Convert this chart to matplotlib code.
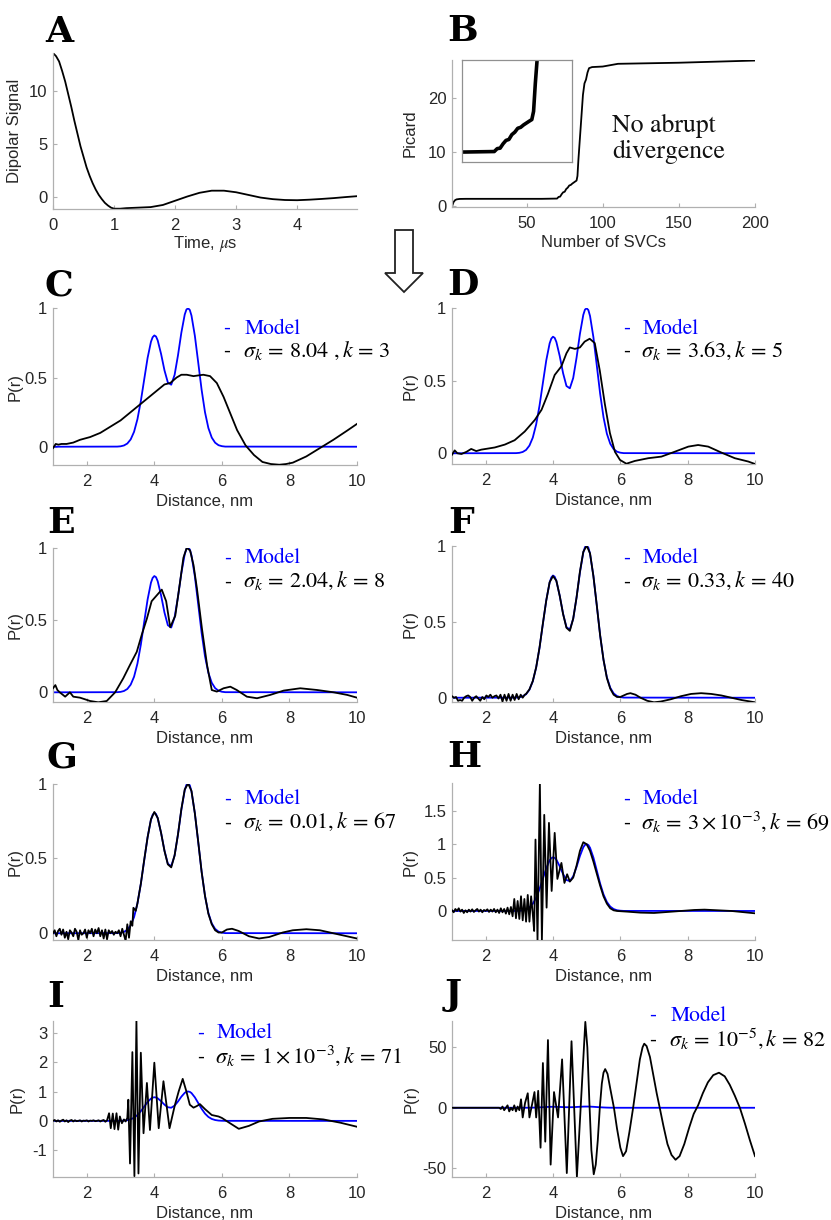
import matplotlib
matplotlib.use('Agg')
import matplotlib.pyplot as plt
from matplotlib.patches import Polygon
from matplotlib.ticker import FuncFormatter

plt.rcParams['font.family'] = ['Liberation Sans', 'DejaVu Sans']
plt.rcParams['mathtext.fontset'] = 'stix'

W, H = 831, 1220

# ---------------- data ----------------
# Panel A: dipolar signal
t_A = [0, 0.05, 0.1, 0.15, 0.2, 0.25, 0.3, 0.35, 0.4, 0.45, 0.5, 0.55, 0.6, 0.65, 0.7,
       0.75, 0.8, 0.85, 0.9, 0.95, 1.0, 1.1, 1.2, 1.4, 1.6, 1.8, 2.0, 2.2, 2.4, 2.6,
       2.8, 3.0, 3.2, 3.4, 3.6, 3.8, 4.0, 4.2, 4.4, 4.6, 4.8, 4.98]
sig_A = [13.6, 13.3, 12.8, 11.9, 10.9, 9.7, 8.5, 7.2, 6.0, 4.8, 3.8, 2.8, 2.0, 1.3, 0.7,
         0.2, -0.2, -0.55, -0.8, -1.0, -1.1, -1.1, -1.05, -1.0, -0.95, -0.75, -0.35, 0.05, 0.4, 0.6,
         0.6, 0.45, 0.2, -0.05, -0.2, -0.28, -0.3, -0.25, -0.18, -0.1, 0.0, 0.08]

# Panel B: Picard plot
svc_B = [1, 2, 3, 4, 6, 10, 20, 30, 40, 50, 60, 70, 71, 72, 73, 74, 75, 76, 77, 78,
         79, 80, 81, 82, 82.8, 83.4, 84, 85, 86, 87, 88, 89, 90, 91, 93, 100, 110, 130,
         150, 175, 200]
pic_B = [0.0, 0.8, 1.15, 1.3, 1.38, 1.4, 1.4, 1.4, 1.4, 1.4, 1.4, 1.45, 1.75, 1.8, 2.25,
         2.6, 2.7, 3.2, 3.45, 3.85, 3.95, 4.2, 4.4, 4.6, 4.75, 5.6, 8.5, 12.5, 16.5, 20.5,
         22.6, 23.3, 24.6, 25.4, 25.6, 25.7, 26.2, 26.3, 26.4, 26.6, 26.8]

# Model distance distribution (blue)
r_model = [1.0, 2.9, 3.0, 3.1, 3.2, 3.3, 3.4, 3.5, 3.6, 3.7, 3.8, 3.9, 3.95, 4.0, 4.05,
           4.1, 4.2, 4.3, 4.4, 4.5, 4.6, 4.7, 4.8, 4.9, 4.95, 5.0, 5.05, 5.1, 5.2, 5.3,
           5.4, 5.5, 5.6, 5.7, 5.8, 5.9, 6.0, 6.1, 10.0]
p_model = [0.0, 0.001, 0.003, 0.009, 0.023, 0.053, 0.108, 0.199, 0.329, 0.486, 0.641, 0.758,
           0.791, 0.804, 0.796, 0.768, 0.670, 0.552, 0.464, 0.448, 0.519, 0.660, 0.824,
           0.955, 0.991, 1.0, 0.988, 0.947, 0.801, 0.607, 0.411, 0.249, 0.135, 0.066,
           0.029, 0.011, 0.004, 0.001, 0.0]

# Panel C
r_C = [1.0, 1.08, 1.16, 1.25, 1.4, 1.6, 1.8, 2.1, 2.4, 2.7, 3.0, 3.3, 3.6, 3.9, 4.1,
       4.3, 4.47, 4.66, 4.8, 4.96, 5.16, 5.3, 5.45, 5.65, 5.85, 6.05, 6.25, 6.45, 6.7,
       6.95, 7.2, 7.45, 7.7, 7.9, 8.1, 8.5, 8.9, 9.3, 9.7, 10.0]
p_C = [-0.01, 0.02, 0.015, 0.02, 0.02, 0.03, 0.05, 0.07, 0.10, 0.145, 0.19, 0.25, 0.31,
       0.37, 0.41, 0.45, 0.46, 0.50, 0.52, 0.52, 0.51, 0.515, 0.52, 0.51, 0.46, 0.36, 0.24,
       0.12, 0.01, -0.06, -0.11, -0.125, -0.13, -0.125, -0.115, -0.07, -0.01, 0.05, 0.115,
       0.165]

# Panel D
r_D = [1.0, 1.08, 1.16, 1.28, 1.43, 1.57, 1.72, 1.87, 2.27, 2.57, 2.86, 3.16, 3.46, 3.66,
       3.85, 4.05, 4.25, 4.4, 4.5, 4.65, 4.8, 4.94, 5.09, 5.24, 5.39, 5.54, 5.69, 5.84,
       5.99, 6.18, 6.43, 6.83, 7.22, 7.62, 8.02, 8.31, 8.61, 9.0, 9.4, 9.8, 10.0]
p_D = [-0.01, 0.02, 0.0, -0.005, 0.01, 0.03, 0.015, 0.025, 0.04, 0.06, 0.09, 0.15, 0.23,
       0.30, 0.41, 0.54, 0.60, 0.69, 0.73, 0.72, 0.73, 0.77, 0.79, 0.76, 0.57, 0.34, 0.14,
       0.01, -0.046, -0.072, -0.053, -0.034, -0.023, 0.011, 0.046, 0.057, 0.046, 0.005,
       -0.034, -0.057, -0.074]

# Panel E
r_E = [1.0, 1.07, 1.13, 1.2, 1.36, 1.5, 1.6, 1.8, 2.1, 2.34, 2.59, 2.84, 3.08, 3.28, 3.48,
       3.63, 3.78, 3.92, 4.07, 4.22, 4.35, 4.47, 4.62, 4.76, 4.86, 4.96, 5.06, 5.16, 5.26,
       5.41, 5.56, 5.7, 5.85, 6.05, 6.25, 6.44, 6.74, 7.04, 7.43, 7.83, 8.32, 8.82, 9.31,
       9.71, 10.0]
p_E = [0.028, 0.05, 0.016, 0.0, -0.03, 0.0, -0.03, -0.037, -0.06, -0.069, -0.06, 0.0,
       0.097, 0.19, 0.28, 0.40, 0.51, 0.63, 0.67, 0.71, 0.63, 0.45, 0.53, 0.76, 0.93, 1.0,
       0.98, 0.88, 0.72, 0.44, 0.19, 0.016, 0.005, 0.028, 0.039, 0.016, -0.03, -0.041,
       -0.018, 0.012, 0.028, 0.016, 0.0, -0.018, -0.037]

# Panel F
r_F = [1.00, 1.06, 1.12, 1.18, 1.24, 1.30, 1.36, 1.42, 1.48, 1.54, 1.60, 1.66, 1.72, 1.78,
       1.84, 1.90, 1.96, 2.02, 2.08, 2.14, 2.20, 2.26, 2.32, 2.38, 2.44, 2.50, 2.56, 2.62,
       2.68, 2.74, 2.80, 2.86, 2.92, 2.98, 3.04, 3.10, 3.16,
       3.2, 3.3, 3.4, 3.5, 3.6, 3.7, 3.8, 3.9, 4.0, 4.1, 4.2, 4.3, 4.4, 4.5, 4.6, 4.7, 4.8,
       4.9, 5.0, 5.1, 5.2, 5.3, 5.4, 5.5, 5.6, 5.7, 5.8, 5.9,
       6.0, 6.1, 6.2, 6.3, 6.45, 6.6, 6.8, 7.0, 7.2, 7.5, 7.8, 8.1, 8.4, 8.7, 9.0, 9.3,
       9.6, 10.0]
p_F = [0.01, 0.0, 0.005, -0.02, -0.015, -0.02, 0.0, 0.01, 0.015, 0.005, -0.02, 0.0, 0.01,
       -0.005, -0.02, 0.005, -0.01, 0.015, 0.005, 0.02, 0.0, 0.01, 0.015, -0.005, 0.02,
       -0.025, 0.02, -0.02, 0.025, -0.02, 0.02, -0.015, 0.025, -0.01, 0.02, 0.0, 0.02,
       0.025, 0.055, 0.11, 0.20, 0.33, 0.49, 0.64, 0.76, 0.80, 0.77, 0.67, 0.55, 0.46, 0.44,
       0.52, 0.66, 0.83, 0.96, 1.0, 0.95, 0.80, 0.61, 0.41, 0.25, 0.13, 0.06, 0.02, 0.005,
       0.005, 0.015, 0.025, 0.03, 0.02, 0.0, -0.02, -0.03, -0.025, -0.01, 0.01, 0.025, 0.03,
       0.025, 0.015, 0.0, -0.015, -0.03]

# Panel G
r_G = [1.00, 1.05, 1.10, 1.15, 1.20, 1.25, 1.30, 1.35, 1.40, 1.45, 1.50, 1.55, 1.60, 1.65,
       1.70, 1.75, 1.80, 1.85, 1.90, 1.95, 2.00, 2.05, 2.10, 2.15, 2.20, 2.25, 2.30, 2.35,
       2.40, 2.45, 2.50, 2.55, 2.60, 2.65, 2.70, 2.75, 2.80, 2.85, 2.90, 2.95, 3.00, 3.05,
       3.10, 3.15, 3.20, 3.25, 3.30, 3.35, 3.38, 3.45,
       3.5, 3.6, 3.7, 3.8, 3.9, 4.0, 4.1, 4.2, 4.3, 4.4, 4.5, 4.6, 4.7, 4.8, 4.9, 5.0, 5.1,
       5.2, 5.3, 5.4, 5.5, 5.6, 5.7, 5.8, 5.9,
       6.0, 6.15, 6.3, 6.5, 6.8, 7.1, 7.4, 7.8, 8.1, 8.5, 8.9, 9.3, 9.7, 10.0]
p_G = [0.0, 0.02, -0.02, 0.015, 0.03, -0.01, 0.025, -0.03, 0.01, -0.04, 0.02, 0.005, -0.02,
       0.03, 0.01, -0.045, 0.02, -0.01, 0.0, 0.025, -0.03, 0.02, 0.0, 0.03, -0.02, 0.025,
       0.0, 0.035, -0.02, 0.02, -0.035, 0.025, -0.04, 0.02, 0.0, 0.015, -0.01, 0.01, 0.0,
       0.02, -0.02, 0.03, -0.01, -0.05, 0.06, -0.03, 0.08, 0.05, 0.17, 0.15,
       0.2, 0.33, 0.49, 0.64, 0.76, 0.81, 0.77, 0.67, 0.55, 0.46, 0.44, 0.52, 0.66, 0.83,
       0.96, 1.0, 0.95, 0.80, 0.61, 0.41, 0.25, 0.13, 0.06, 0.02, 0.005,
       0.005, 0.025, 0.03, 0.015, -0.02, -0.035, -0.025, 0.005, 0.02, 0.027, 0.02, 0.0,
       -0.02, -0.035]

# Panel H
r_H = [1.00, 1.05, 1.10, 1.15, 1.20, 1.25, 1.30, 1.35, 1.40, 1.45, 1.50, 1.55, 1.60, 1.65,
       1.70, 1.75, 1.80, 1.85, 1.90, 1.95, 2.00, 2.05, 2.10, 2.15, 2.20, 2.25, 2.30, 2.35,
       2.40, 2.45, 2.50, 2.55, 2.60, 2.65, 2.70, 2.75,
       2.80, 2.85, 2.90, 2.95, 3.00, 3.05, 3.10, 3.15, 3.20, 3.25, 3.30, 3.35, 3.40, 3.44,
       3.48, 3.54, 3.61, 3.67, 3.74, 3.81, 3.88, 3.96, 4.05, 4.13, 4.25, 4.34, 4.42, 4.5,
       4.6, 4.7, 4.8, 4.9, 5.0, 5.1, 5.2, 5.3, 5.4, 5.5, 5.6, 5.7, 5.8, 5.9, 6.2, 6.6, 7.0,
       7.4, 7.8, 8.2, 8.5, 8.9, 9.3, 9.7, 10.0]
p_H = [0.01, -0.02, 0.03, 0.0, 0.04, -0.01, 0.02, -0.03, 0.01, -0.02, 0.02, -0.01, 0.025,
       -0.015, 0.01, 0.03, -0.01, 0.02, -0.02, 0.015, 0.0, 0.025, -0.015, 0.02, -0.01, 0.03,
       -0.02, 0.02, -0.03, 0.04, -0.02, 0.03, -0.04, 0.05, -0.05, 0.06,
       -0.08, 0.18, -0.11, 0.15, -0.12, 0.22, -0.14, 0.18, -0.16, 0.24, -0.16, 0.22, -0.05,
       -0.3, 1.07, -0.44, 1.91, -0.44, 1.44, 0.05, 1.32, 0.3, 1.17, 0.48, 0.72, 0.42, 0.55,
       0.44, 0.5, 0.68, 0.9, 1.03, 1.0, 0.9, 0.74, 0.56, 0.38, 0.22, 0.11, 0.04, 0.01, 0.0,
       -0.01, -0.025, -0.03, -0.015, 0.0, 0.015, 0.02, 0.01, 0.0, -0.02, -0.035]

# Panel I
r_I = [1.00, 1.05, 1.10, 1.15, 1.20, 1.25, 1.30, 1.35, 1.40, 1.45, 1.50, 1.55, 1.60, 1.65,
       1.70, 1.75, 1.80, 1.85, 1.90, 1.95, 2.00, 2.05, 2.10, 2.15, 2.20, 2.25, 2.30, 2.35,
       2.40, 2.45, 2.50, 2.55, 2.60,
       2.66, 2.71, 2.77, 2.82, 2.88, 2.93, 2.98, 3.04, 3.10, 3.15, 3.20, 3.23, 3.28, 3.35,
       3.41, 3.47, 3.53, 3.60, 3.68, 3.78, 3.87, 4.0, 4.13, 4.27, 4.45, 4.6, 4.72, 4.84,
       4.95, 5.05, 5.16, 5.25, 5.35, 5.5, 5.7, 5.9, 6.0, 6.2, 6.5, 6.8, 7.1, 7.5, 8.0, 8.5,
       9.0, 9.5, 10.0]
p_I = [0.0, 0.03, -0.02, 0.02, -0.03, 0.01, 0.04, -0.02, 0.02, -0.04, 0.01, 0.03, -0.02,
       0.02, -0.01, 0.0, 0.02, -0.02, 0.01, 0.0, 0.02, -0.02, 0.01, 0.0, 0.02, -0.01, 0.0,
       0.02, -0.02, 0.01, 0.03, -0.03, 0.02,
       0.26, -0.25, 0.25, -0.28, 0.26, -0.3, 0.15, -0.08, 0.05, -0.02, 0.1, 0.72, -1.45,
       2.34, -1.88, 3.41, -1.79, 2.32, -0.42, 1.29, -0.31, 1.98, -0.25, 1.35, -0.25, 0.5,
       1.0, 1.43, 1.0, 0.55, 0.45, 0.5, 0.57, 0.4, 0.2, 0.15, 0.1, -0.05, -0.27, -0.17,
       -0.02, 0.07, 0.1, 0.1, 0.05, -0.06, -0.2]

# Panel J
r_J = [1.0, 2.4, 2.45, 2.5, 2.55, 2.6, 2.65, 2.7, 2.75, 2.8, 2.85, 2.9, 2.95, 3.0, 3.05,
       3.1, 3.17, 3.25, 3.3, 3.38, 3.45, 3.5, 3.56, 3.63, 3.7, 3.77, 3.85, 3.93, 4.03, 4.15,
       4.27, 4.41, 4.55, 4.71, 4.96,
       5.02, 5.08, 5.14, 5.21, 5.27, 5.33, 5.39, 5.45, 5.5, 5.55, 5.62, 5.7, 5.81, 5.9, 6.0,
       6.08, 6.17, 6.27, 6.38, 6.48, 6.58, 6.66, 6.71, 6.78, 6.88, 6.98, 7.08, 7.17, 7.28,
       7.4, 7.52, 7.64, 7.76, 7.9, 8.05, 8.18, 8.31, 8.45, 8.6, 8.76, 8.93, 9.1, 9.25, 9.4,
       9.55, 9.7, 9.85, 10.0]
p_J = [0, 0, -1, 1, -2, 0, 2, -3, 0, -2, 2, -3, 1, -2, 7, -8, 4, 12, -8, 3, 13, -8, 14,
       -33, 37, -28, 56, -47, 13, -8, 40, -54, 55, -57, 71,
       50, 5, -35, -55, -47, -27, 0, 20, 29, 32, 28, 16, 0, -17, -33, -40, -36, -20, 0, 20,
       40, 50, 53, 51, 42, 27, 12, 0, -15, -30, -39, -43, -40, -30, -16, -5, 2, 12, 21, 27,
       29, 26, 19, 10, 0, -13, -27, -40]

legend_fits = {
    'C': r'$\sigma_k\,=\,8.04\ ,k\,=\,3$',
    'D': r'$\sigma_k\,=\,3.63,k\,=\,5$',
    'E': r'$\sigma_k\,=\,2.04,k\,=\,8$',
    'F': r'$\sigma_k\,=\,0.33,k\,=\,40$',
    'G': r'$\sigma_k\,=\,0.01,k\,=\,67$',
    'H': r'$\sigma_k\,=\,3\times10^{-3},k\,=\,69$',
    'I': r'$\sigma_k\,=\,1\times10^{-3},k\,=\,71$',
    'J': r'$\sigma_k\,=\,10^{-5},k\,=\,82$',
}

# ---------------- figure ----------------
fig = plt.figure(figsize=(W / 100, H / 100), dpi=100)
SPINE = '#b0b0b0'
TXT = '#262626'
fmt = FuncFormatter(lambda v, p: f'{v:g}')


def add_ax(l, t, r, b):
    return fig.add_axes([l / W, 1 - b / H, (r - l) / W, (b - t) / H])


def style(ax):
    for s in ['top', 'right']:
        ax.spines[s].set_visible(False)
    for s in ['left', 'bottom']:
        ax.spines[s].set_color(SPINE)
        ax.spines[s].set_linewidth(0.9)
    ax.tick_params(direction='in', length=3, width=0.8, color=SPINE,
                   labelcolor=TXT, labelsize=12)
    ax.tick_params(axis='x', pad=6.5)
    ax.tick_params(axis='y', pad=4)
    ax.xaxis.set_major_formatter(fmt)
    ax.yaxis.set_major_formatter(fmt)


def ftext(x, y, s, **kw):
    fig.text(x / W, 1 - y / H, s, **kw)


# Panel A
axA = add_ax(53, 53, 357, 209)
axA.plot(t_A, sig_A, color='k', lw=1.3)
axA.set_xlim(0, 4.98)
axA.set_ylim(-1.13, 13.6)
axA.set_xticks([0, 1, 2, 3, 4])
axA.set_yticks([0, 5, 10])
style(axA)
axA.set_xlabel(r'Time, $\mu$s', fontsize=12, color=TXT, labelpad=0.5)
axA.set_ylabel('Dipolar Signal', fontsize=12, color=TXT)
axA.yaxis.set_label_coords(-0.103, 0.5)

# Panel B
axB = add_ax(452, 60, 755, 207)
axB.plot(svc_B, pic_B, color='k', lw=1.3)
axB.set_xlim(1, 200)
axB.set_ylim(-0.1, 26.9)
axB.set_xticks([50, 100, 150, 200])
axB.set_yticks([0, 10, 20])
style(axB)
axB.set_xlabel('Number of SVCs', fontsize=12, color=TXT, labelpad=3)
axB.set_ylabel('Picard', fontsize=12, color=TXT)
axB.yaxis.set_label_coords(-0.115, 0.5)

axIn = add_ax(462, 60, 572, 162)
axIn.plot(svc_B, pic_B, color='k', lw=2.6)
axIn.set_xlim(59, 96.5)
axIn.set_ylim(0.37, 10.9)
axIn.set_xticks([])
axIn.set_yticks([])
for s in axIn.spines.values():
    s.set_color('#909090')
    s.set_linewidth(0.9)

ftext(612, 131.7, 'No abrupt', fontsize=18.5, family='STIXGeneral', va='baseline', color='#111111')
ftext(612, 158.3, 'divergence', fontsize=18.5, family='STIXGeneral', va='baseline', color='#111111')

# P(r) panels
panels = [
    ('C', (53, 308.3, 357, 465), (-0.132, 1.0), [0, 0.5, 1], r_C, p_C, -0.099),
    ('D', (452, 308.3, 755, 464), (-0.074, 1.0), [0, 0.5, 1], r_D, p_D, -0.115),
    ('E', (53, 547.7, 357, 702.3), (-0.069, 1.0), [0, 0.5, 1], r_E, p_E, -0.099),
    ('F', (452, 545.7, 755, 702.3), (-0.030, 1.0), [0, 0.5, 1], r_F, p_F, -0.115),
    ('G', (53, 783.5, 357, 940), (-0.045, 1.0), [0, 0.5, 1], r_G, p_G, -0.099),
    ('H', (452, 783.5, 755, 940), (-0.435, 1.91), [0, 0.5, 1, 1.5], r_H, p_H, -0.115),
    ('I', (53, 1020.7, 357, 1176.7), (-1.9, 3.41), [-1, 0, 1, 2, 3], r_I, p_I, -0.092),
    ('J', (452, 1020.7, 755, 1176.7), (-57, 72), [-50, 0, 50], r_J, p_J, -0.11),
]

legend_pos = {
    # dash x, text x, baseline model, baseline fit
    'C': (223, 245, 334, 357),
    'D': (623, 643, 334, 357),
    'E': (224, 245, 563.3, 587.3),
    'F': (623, 643, 563.3, 587.3),
    'G': (224, 245, 804.3, 828.3),
    'H': (623, 643, 804.3, 829),
    'I': (197, 217, 1038.3, 1062.7),
    'J': (649, 671, 1021, 1046),
}

for name, box, ylim, yt, rr, pp, ylx in panels:
    ax = add_ax(*box)
    ax.plot(r_model, p_model, color='#0000ff', lw=1.3, zorder=2)
    ax.plot(rr, pp, color='k', lw=1.3, zorder=3)
    ax.set_xlim(1, 10)
    ax.set_ylim(*ylim)
    ax.set_xticks([2, 4, 6, 8, 10])
    ax.set_yticks(yt)
    style(ax)
    ax.set_xlabel('Distance, nm', fontsize=12, color=TXT, labelpad=3.5)
    ax.set_ylabel('P(r)', fontsize=12, color=TXT)
    ax.yaxis.set_label_coords(ylx, 0.5)
    dx, tx, y1, y2 = legend_pos[name]
    ftext(dx, y1, '-', fontsize=15, family='STIXGeneral', color='#0000ff', va='baseline')
    ftext(tx, y1, 'Model', fontsize=15.5, family='STIXGeneral', color='#0000ff', va='baseline')
    ftext(dx, y2, '-', fontsize=15, family='STIXGeneral', color='k', va='baseline')
    ftext(tx - 2, y2, legend_fits[name], fontsize=16, color='k', va='baseline')

# Panel letters
letters = [('A', 45, 42), ('B', 447, 41), ('C', 45, 296), ('D', 447, 295),
           ('E', 47, 533), ('F', 448, 533), ('G', 46, 767), ('H', 447, 767),
           ('I', 47, 1007), ('J', 445, 1005)]
for s, x, y in letters:
    ftext(x, y, s, fontsize=26, family='DejaVu Serif', fontweight='bold', va='baseline')

# Hollow down arrow
arrow_px = [(395, 230), (413, 230), (413, 273), (423, 273), (404, 292), (385, 273), (395, 273)]
arrow = Polygon([(x / W, 1 - y / H) for x, y in arrow_px], closed=True,
                facecolor='white', edgecolor='#222222', lw=1.3, transform=fig.transFigure)
fig.patches.append(arrow)

fig.savefig('out.png', dpi=100, facecolor='white')
